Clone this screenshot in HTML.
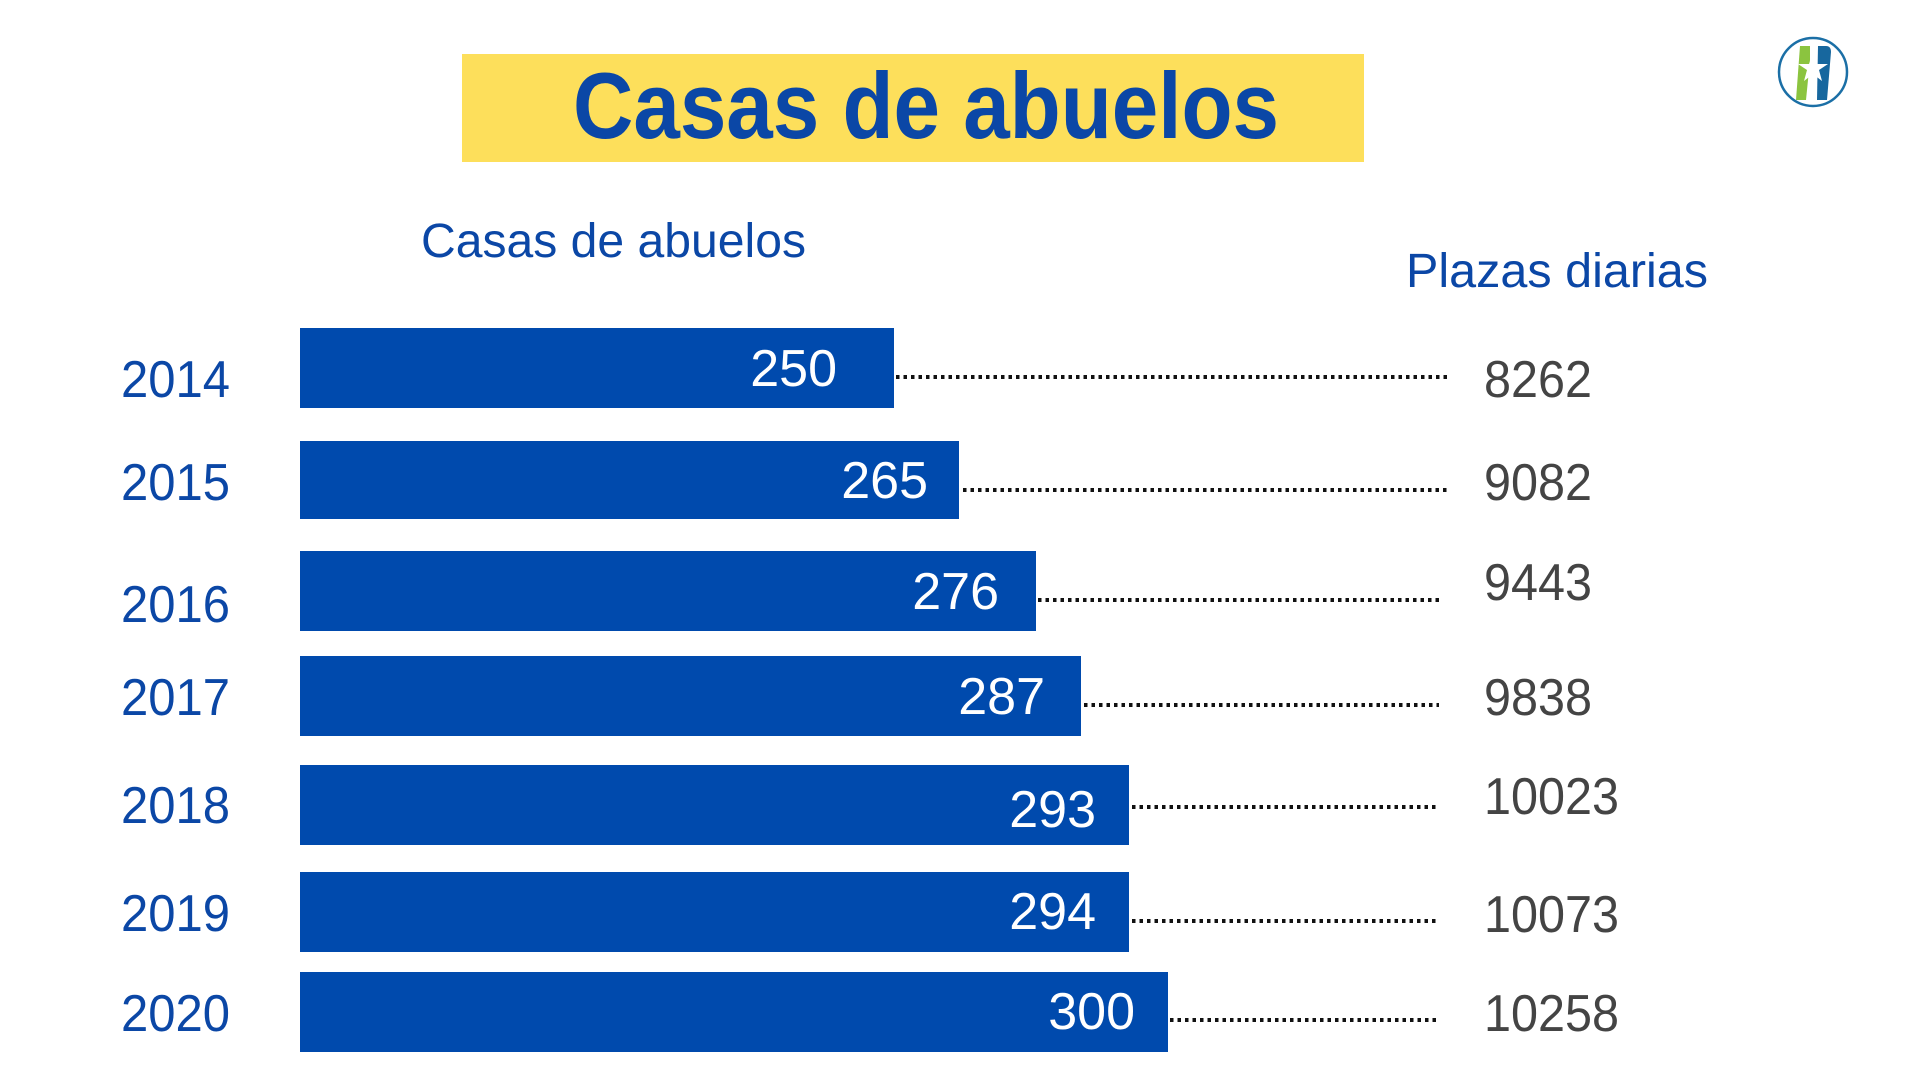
<!DOCTYPE html>
<html><head><meta charset="utf-8"><style>html,body{margin:0;padding:0;background:#fff;}svg{display:block}</style></head>
<body>
<svg width="1920" height="1080" viewBox="0 0 1920 1080" font-family="Liberation Sans, sans-serif">
<rect x="462" y="54" width="902" height="108" fill="#FDDF5B"/>
<text x="926" y="138" text-anchor="middle" font-size="94" font-weight="bold" fill="#0B47A6" textLength="706" lengthAdjust="spacingAndGlyphs">Casas de abuelos</text>
<g>
<circle cx="1813" cy="72" r="34" fill="#fff" stroke="#1B6FA6" stroke-width="2.5"/>
<path d="M1800 46 h10 v14 l-4 40 h-10 z" fill="#8BC43F"/>
<path d="M1818 46 h8 q5 0 5 6 l-4 48 h-10 z" fill="#17679E"/>
<polygon points="1813,53 1817,64 1828,64 1819,70 1822,81 1813,74 1804,81 1807,70 1798,64 1809,64" fill="#fff"/>
</g>
<text x="421" y="257" font-size="48" fill="#0B47A6" textLength="385" lengthAdjust="spacingAndGlyphs">Casas de abuelos</text>
<text x="1406" y="287" font-size="48" fill="#0B47A6" textLength="302" lengthAdjust="spacingAndGlyphs">Plazas diarias</text>
<g fill="#004AAD">
<rect x="300" y="328" width="594" height="80"/>
<rect x="300" y="441" width="659" height="78"/>
<rect x="300" y="551" width="736" height="80"/>
<rect x="300" y="656" width="781" height="80"/>
<rect x="300" y="765" width="829" height="80"/>
<rect x="300" y="872" width="829" height="80"/>
<rect x="300" y="972" width="868" height="80"/>
</g>
<g stroke="#111" stroke-width="4" stroke-dasharray="3.5 4">
<line x1="896" y1="377" x2="1449" y2="377"/>
<line x1="963" y1="490" x2="1449" y2="490"/>
<line x1="1038" y1="600" x2="1439" y2="600"/>
<line x1="1084" y1="705" x2="1439" y2="705"/>
<line x1="1132" y1="807" x2="1439" y2="807"/>
<line x1="1132" y1="921" x2="1439" y2="921"/>
<line x1="1170" y1="1020" x2="1439" y2="1020"/>
</g>
<g font-size="52" fill="#0B47A6">
<text x="121" y="397" textLength="109" lengthAdjust="spacingAndGlyphs">2014</text>
<text x="121" y="500" textLength="109" lengthAdjust="spacingAndGlyphs">2015</text>
<text x="121" y="622" textLength="109" lengthAdjust="spacingAndGlyphs">2016</text>
<text x="121" y="715" textLength="109" lengthAdjust="spacingAndGlyphs">2017</text>
<text x="121" y="823" textLength="109" lengthAdjust="spacingAndGlyphs">2018</text>
<text x="121" y="931" textLength="109" lengthAdjust="spacingAndGlyphs">2019</text>
<text x="121" y="1031" textLength="109" lengthAdjust="spacingAndGlyphs">2020</text>
</g>
<g font-size="52" fill="#fff" text-anchor="end">
<text x="837" y="386">250</text>
<text x="928" y="498">265</text>
<text x="999" y="609">276</text>
<text x="1045" y="714">287</text>
<text x="1096" y="827">293</text>
<text x="1096" y="929">294</text>
<text x="1135" y="1029">300</text>
</g>
<g font-size="52" fill="#444">
<text x="1484" y="397" textLength="108" lengthAdjust="spacingAndGlyphs">8262</text>
<text x="1484" y="500" textLength="108" lengthAdjust="spacingAndGlyphs">9082</text>
<text x="1484" y="600" textLength="108" lengthAdjust="spacingAndGlyphs">9443</text>
<text x="1484" y="715" textLength="108" lengthAdjust="spacingAndGlyphs">9838</text>
<text x="1484" y="814" textLength="135" lengthAdjust="spacingAndGlyphs">10023</text>
<text x="1484" y="932" textLength="135" lengthAdjust="spacingAndGlyphs">10073</text>
<text x="1484" y="1031" textLength="135" lengthAdjust="spacingAndGlyphs">10258</text>
</g>
</svg>
</body></html>
